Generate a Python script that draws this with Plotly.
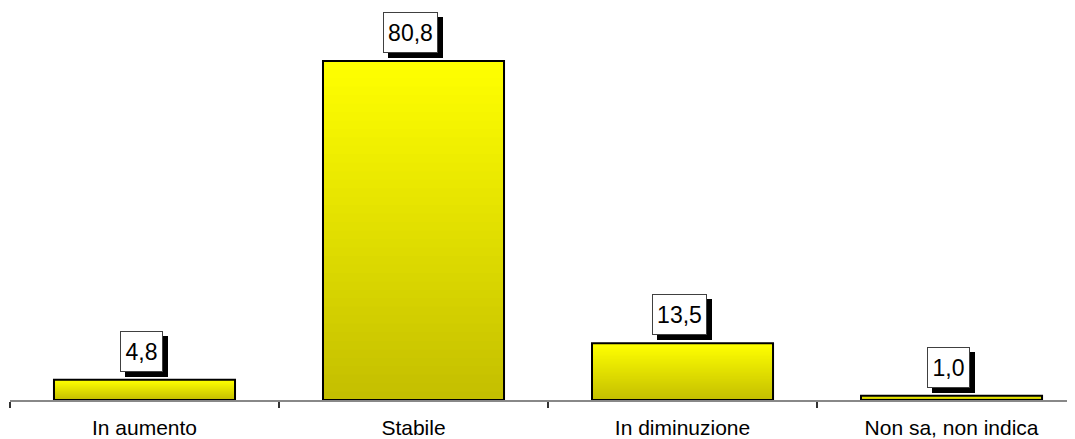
import plotly.graph_objects as go

categories = ["In aumento", "Stabile", "In diminuzione", "Non sa, non indica"]
values = [4.8, 80.8, 13.5, 1.0]
value_labels = ["4,8", "80,8", "13,5", "1,0"]

BAR_W = 0.673
N_STEPS = 40
TOP_RGB = (255, 255, 0)
BOT_RGB = (196, 191, 0)

fig = go.Figure()

# gradient fill: overlaid bars, each a fraction of the value, darker toward the base
for k in range(N_STEPS):
    f = k / (N_STEPS - 1)
    c = tuple(round(TOP_RGB[i] + (BOT_RGB[i] - TOP_RGB[i]) * f) for i in range(3))
    frac = 1 - k / N_STEPS
    fig.add_trace(go.Bar(
        x=categories, y=[v * frac for v in values], width=BAR_W,
        marker=dict(color=f"rgb{c}", line=dict(width=0)),
        hoverinfo="skip", showlegend=False,
    ))

# outline
fig.add_trace(go.Bar(
    x=categories, y=values, width=BAR_W,
    marker=dict(color="rgba(0,0,0,0)", line=dict(color="black", width=2)),
    showlegend=False,
))

label_font = dict(family="Liberation Sans, Arial, sans-serif", size=23, color="black")
for cat, v, lab in zip(categories, values, value_labels):
    w = 41 if len(lab) <= 3 else 53
    # shadow (blank box)
    fig.add_annotation(x=cat, y=v, text=" ", showarrow=False, yanchor="bottom",
                       xshift=2, yshift=3, width=w, height=39, borderpad=0,
                       bgcolor="black", bordercolor="black", borderwidth=1,
                       font=label_font)
    # box
    fig.add_annotation(x=cat, y=v, text=lab, showarrow=False, yanchor="bottom",
                       xshift=-3, yshift=8, width=w, height=39, borderpad=0,
                       bgcolor="white", bordercolor="#404040", borderwidth=1,
                       font=label_font)

# page body has an 8px default margin; size the figure to fit the window
fig.update_layout(
    barmode="overlay",
    width=1067, height=431,
    margin=dict(l=2, r=0, t=14, b=39, autoexpand=False),
    plot_bgcolor="white", paper_bgcolor="white",
    xaxis=dict(
        type="category", range=[-0.5, 3.459],
        showline=True, linecolor="#888888", linewidth=2,
        ticks="outside", tickson="boundaries", ticklen=6, tickwidth=2, tickcolor="#333333",
        showgrid=False, layer="below traces", automargin=False,
        ticklabelstandoff=8,
        tickfont=dict(family="Liberation Sans, Arial, sans-serif", size=21, color="black"),
    ),
    yaxis=dict(visible=False, range=[0, 90.1], showgrid=False),
)

fig.write_html("out.html")
